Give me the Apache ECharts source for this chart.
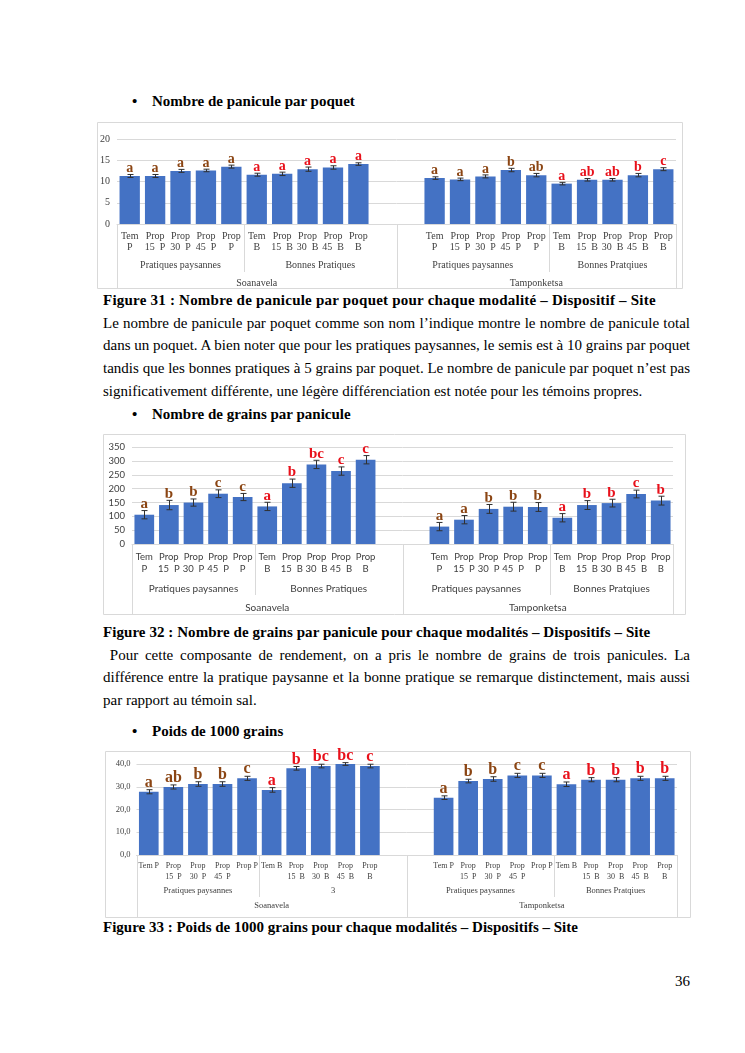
<!DOCTYPE html>
<html><head><meta charset="utf-8">
<script src="https://cdn.jsdelivr.net/npm/echarts@6/dist/echarts.min.js"></script>
<style>
html,body{margin:0;padding:0;background:#fff;}
body{width:745px;height:1053px;position:relative;overflow:hidden;font-family:"Liberation Serif","Times New Roman",serif;color:#000;}
.t{position:absolute;left:103px;width:587px;font-size:15px;line-height:22.7px;}
.t div{white-space:nowrap;}
.t div.j{text-align:justify;text-align-last:justify;white-space:normal;}
.cap{position:absolute;left:103px;font-size:15px;font-weight:bold;line-height:23px;white-space:nowrap;}
.bul{position:absolute;left:132px;font-size:15px;font-weight:bold;line-height:23px;white-space:nowrap;}
.bul span{display:inline-block;width:20px;}
#chart{position:absolute;left:0;top:0;width:745px;height:1053px;}
.pg{position:absolute;right:55px;top:970px;font-size:15px;line-height:23px;}
</style></head>
<body>
<div class="bul" style="top:89.5px"><span>•</span>Nombre de panicule par poquet</div>
<div class="cap" style="top:288.5px;letter-spacing:0.22px">Figure 31 : Nombre de panicule par poquet pour chaque modalité – Dispositif – Site</div>
<div class="t" style="top:311.5px">
<div class="j">Le nombre de panicule par poquet comme son nom l’indique montre le nombre de panicule total</div>
<div class="j">dans un poquet. A bien noter que pour les pratiques paysannes, le semis est à 10 grains par poquet</div>
<div class="j">tandis que les bonnes pratiques à 5 grains par poquet. Le nombre de panicule par poquet n’est pas</div>
<div>significativement différente, une légère différenciation est notée pour les témoins propres.</div>
</div>
<div class="bul" style="top:402.5px"><span>•</span>Nombre de grains par panicule</div>
<div class="cap" style="top:620.5px;letter-spacing:0.06px">Figure 32 : Nombre de grains par panicule pour chaque modalités – Dispositifs – Site</div>
<div class="t" style="top:643.5px">
<div class="j">&nbsp;Pour cette composante de rendement, on a pris le nombre de grains de trois panicules. La</div>
<div class="j">différence entre la pratique paysanne et la bonne pratique se remarque distinctement, mais aussi</div>
<div>par rapport au témoin sal.</div>
</div>
<div class="bul" style="top:719.5px"><span>•</span>Poids de 1000 grains</div>
<div class="cap" style="top:915.5px">Figure 33 : Poids de 1000 grains pour chaque modalités – Dispositifs – Site</div>
<div class="pg">36</div>
<div id="chart"></div>
<script>
// ---------- data ----------
const sites = ['Soanavela', 'Tamponketsa'];
const modalities = ['Tem P','Prop 15 P','Prop 30 P','Prop 45 P','Prop P','Tem B','Prop 15 B','Prop 30 B','Prop 45 B','Prop B'];
const tickLabels = ['Tem\nP','Prop\n15  P','Prop\n30  P','Prop\n45  P','Prop\nP','Tem\nB','Prop\n15  B','Prop\n30  B','Prop\n45  B','Prop\nB'];
const tickLabels33 = ['Tem P','Prop\n15  P','Prop\n30  P','Prop\n45  P','Prop P','Tem B','Prop\n15  B','Prop\n30  B','Prop\n45  B','Prop\nB'];
const groupLabels = ['Pratiques paysannes','Bonnes Pratiques','Pratiques paysannes','Bonnes Pratqiues'];
const groupLabels33 = ['Pratiques paysannes','3','Pratiques paysannes','Bonnes Pratqiues'];
const groupSizes = [5, 6, 6, 5];
const siteSizes = [11, 11];

// Figure 31 : panicules par poquet
const panSoa = [11.3, 11.3, 12.5, 12.6, 13.5, 11.6, 11.8, 12.9, 13.3, 14.1];
const panSoaErr = [0.35, 0.35, 0.35, 0.3, 0.35, 0.35, 0.4, 0.5, 0.4, 0.3];
const panSoaLet = ['a','a','a','a','a','a','a','a','a','a'];
const panTam = [10.8, 10.5, 11.2, 12.7, 11.5, 9.5, 10.4, 10.4, 11.5, 12.9];
const panTamErr = [0.3, 0.3, 0.35, 0.4, 0.4, 0.3, 0.3, 0.3, 0.4, 0.35];
const panTamLet = ['a','a','a','b','ab','a','ab','ab','b','c'];

// Figure 32 : grains par panicule
const graSoa = [106, 141, 150, 182, 170, 136, 220, 288, 264, 305];
const graSoaErr = [15, 17, 13, 14, 13, 15, 15, 15, 15, 15];
const graSoaLet = ['a','b','b','c','c','a','b','bc','c','c'];
const graTam = [63, 88, 127, 135, 134, 95, 141, 148, 181, 157];
const graTamErr = [15, 15, 16, 16, 16, 15, 16, 14, 14, 16];
const graTamLet = ['a','a','b','b','b','a','b','b','c','b'];

// Figure 33 : poids de 1000 grains
const poiSoa = [27.8, 29.9, 31.2, 31.2, 33.7, 28.6, 38.1, 39.1, 40.0, 39.1];
const poiSoaErr = [0.9, 0.9, 1.0, 1.0, 0.9, 1.0, 0.8, 0.8, 0.6, 0.8];
const poiSoaLet = ['a','ab','b','b','c','a','b','bc','bc','c'];
const poiTam = [25.2, 32.5, 33.4, 35.0, 35.0, 31.1, 33.1, 33.1, 33.7, 33.7];
const poiTamErr = [0.8, 0.8, 1.0, 0.9, 0.9, 1.0, 0.9, 0.9, 0.9, 0.9];
const poiTamLet = ['a','b','b','c','c','a','b','b','b','b'];

// ---------- build ----------
const BROWN = '#8B4513', RED = '#E8101A', BLUE = '#4472C4', GRID = '#D9D9D9', TXT = '#404040';
const SERIF = '"Liberation Serif","Times New Roman",serif';
const SANS = 'Lato, "Liberation Sans", sans-serif';

const categories = [].concat(
  modalities.map(m => sites[0] + ' ' + m), ['gap1', 'gap2'],
  modalities.map(m => sites[1] + ' ' + m));

function cum(arr){ const out=[0]; arr.forEach(v=>out.push(out[out.length-1]+v)); return out; }

const figs = [
  {soa: panSoa, soaErr: panSoaErr, soaLet: panSoaLet, tam: panTam, tamErr: panTamErr, tamLet: panTamLet,
   max: 20, interval: 5, yFmt: v => String(v), ticks: tickLabels, groups: groupLabels,
   grid: {left: 117, top: 139, width: 559, height: 85},
   axisFont: SERIF, ySize: 10, yMargin: 7, catSize: 10, catLH: 11, catMargin: 6.5,
   groupSize: 10, groupOff: [41, 59], divLen: [48, 65], letSize: 14,
   box: [97.5, 122.5, 585, 166]},
  {soa: graSoa, soaErr: graSoaErr, soaLet: graSoaLet, tam: graTam, tamErr: graTamErr, tamLet: graTamLet,
   max: 350, interval: 50, yFmt: v => String(v), ticks: tickLabels, groups: groupLabels,
   grid: {left: 132, top: 447.3, width: 541, height: 96.7},
   axisFont: SANS, ySize: 9.5, yMargin: 7, catSize: 9.5, catLH: 11.5, catMargin: 7.5,
   groupSize: 10, groupOff: [45, 64], divLen: [51, 71], letSize: 15,
   box: [103.5, 434.5, 582, 180]},
  {soa: poiSoa, soaErr: poiSoaErr, soaLet: poiSoaLet, tam: poiTam, tamErr: poiTamErr, tamLet: poiTamLet,
   max: 40, interval: 10, yFmt: v => v.toFixed(1).replace('.', ','), ticks: tickLabels33, groups: groupLabels33,
   grid: {left: 136.5, top: 764, width: 540.5, height: 91},
   axisFont: SERIF, ySize: 8.5, yMargin: 6, catSize: 8, catLH: 11, catMargin: 5.5,
   groupSize: 8.5, groupOff: [36, 51], divLen: [42, 63], letSize: 16,
   box: [105.5, 751.5, 585, 166]}
];

const option = {animation: false, grid: [], xAxis: [], yAxis: [], series: [], graphic: []};

figs.forEach((f, k) => {
  option.grid.push(Object.assign({containLabel: false}, f.grid));
  const labelsAll = [].concat(f.ticks, ['', ''], f.ticks);
  option.xAxis.push({
    type: 'category', gridIndex: k, data: categories,
    axisLine: {show: true, lineStyle: {color: GRID, width: 1}},
    axisTick: {show: false},
    axisLabel: {interval: 0, margin: f.catMargin, color: TXT, fontFamily: f.axisFont, fontSize: f.catSize,
      lineHeight: f.catLH, formatter: (v, i) => labelsAll[i]},
    splitLine: {show: false}
  });
  option.xAxis.push({type: 'value', gridIndex: k, min: 0, max: categories.length, show: false});
  option.yAxis.push({
    type: 'value', gridIndex: k, min: 0, max: f.max, interval: f.interval,
    axisLine: {show: false}, axisTick: {show: false},
    axisLabel: {color: TXT, fontFamily: f.axisFont, fontSize: f.ySize, margin: f.yMargin, formatter: f.yFmt},
    splitLine: {lineStyle: {color: GRID, width: 1}}
  });
  const catAx = 2 * k, valAx = 2 * k + 1;
  const values = [].concat(f.soa, [null, null], f.tam);
  const errs = [].concat(f.soaErr, [null, null], f.tamErr);
  const lets = [].concat(f.soaLet, [null, null], f.tamLet);

  option.series.push({
    type: 'bar', xAxisIndex: catAx, yAxisIndex: k, data: values,
    barCategoryGap: '20%', itemStyle: {color: BLUE}, silent: true
  });

  const errData = [];
  values.forEach((v, i) => { if (v != null) errData.push([i, v, errs[i]]); });
  option.series.push({
    type: 'custom', xAxisIndex: catAx, yAxisIndex: k, data: errData, clip: false, silent: true, z: 5,
    renderItem: (params, api) => {
      const i = api.value(0), v = api.value(1), e = api.value(2);
      const t = api.coord([i, v + e]), b = api.coord([i, v - e]);
      const x = Math.round(t[0]) + 0.5, cap = 3;
      const modIdx = i < 10 ? i : i - 12;
      const color = modIdx < 5 ? BROWN : RED;
      return {type: 'group', children: [
        {type: 'line', shape: {x1: x, y1: t[1], x2: x, y2: b[1]}, style: {stroke: '#303030', lineWidth: 1}},
        {type: 'line', shape: {x1: x - cap, y1: t[1], x2: x + cap, y2: t[1]}, style: {stroke: '#303030', lineWidth: 1}},
        {type: 'line', shape: {x1: x - cap, y1: b[1], x2: x + cap, y2: b[1]}, style: {stroke: '#303030', lineWidth: 1}},
        {type: 'text', x: t[0], y: t[1] + 1, style: {text: lets[i], fill: color, align: 'center', verticalAlign: 'bottom',
          fontFamily: SERIF, fontWeight: 'bold', fontSize: f.letSize}}
      ]};
    }
  });

  // dividers of the multi-level axis
  const gB = cum(groupSizes), sB = cum(siteSizes);
  const divData = gB.map(b => [b, 0, sB.indexOf(b) >= 0 ? 1 : 0]);
  option.series.push({
    type: 'custom', xAxisIndex: valAx, yAxisIndex: k, data: divData, clip: false, silent: true,
    renderItem: (params, api) => {
      const p = api.coord([api.value(0), 0]);
      const x = Math.round(p[0]) + 0.5;
      const len = f.divLen[api.value(2)];
      return {type: 'line', shape: {x1: x, y1: p[1], x2: x, y2: p[1] + len}, style: {stroke: GRID, lineWidth: 1}};
    }
  });
  // group and site labels
  const lblData = [], lblText = [];
  f.groups.forEach((g, j) => { lblData.push([(gB[j] + gB[j + 1]) / 2, 0, 0]); lblText.push(g); });
  sites.forEach((s, j) => { lblData.push([(sB[j] + sB[j + 1]) / 2, 0, 1]); lblText.push(s); });
  option.series.push({
    type: 'custom', xAxisIndex: valAx, yAxisIndex: k, data: lblData, clip: false, silent: true,
    renderItem: (params, api) => {
      const p = api.coord([api.value(0), 0]);
      return {type: 'text', x: p[0], y: p[1] + f.groupOff[api.value(2)],
        style: {text: lblText[params.dataIndex], fill: TXT, align: 'center', verticalAlign: 'middle',
          fontFamily: f.axisFont, fontSize: f.groupSize}};
    }
  });

  option.graphic.push({type: 'rect', silent: true, z: -1,
    shape: {x: f.box[0], y: f.box[1], width: f.box[2], height: f.box[3]},
    style: {fill: 'none', stroke: GRID, lineWidth: 1}});
});

const chart = echarts.init(document.getElementById('chart'));
chart.setOption(option);
</script>
</body></html>
